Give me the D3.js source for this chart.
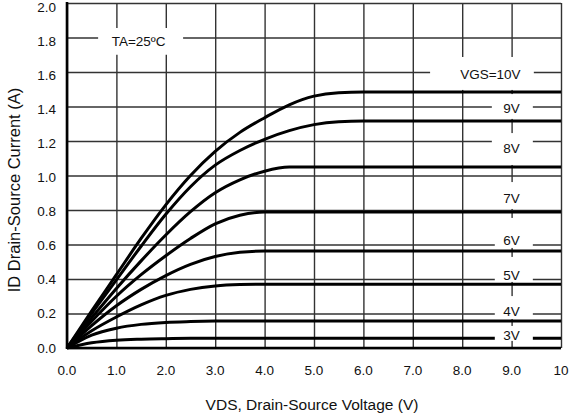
<!DOCTYPE html>
<html>
<head>
<meta charset="utf-8">
<script src="https://cdn.jsdelivr.net/npm/d3@7"></script>
<style>
  body { margin: 0; background: #fff; }
  svg { display: block; font-family: "Liberation Sans", Arial, sans-serif; }
</style>
</head>
<body>
<div id="chart"></div>
<script>
// drain-source voltage samples (V)
const vds = [0, 0.5, 1, 1.5, 2, 2.5, 3, 3.5, 4, 4.5, 5, 5.5, 6, 7, 8, 9, 10];

// drain current (A) per gate voltage
const id10V = [0, 0.215, 0.425, 0.635, 0.83, 1.00, 1.14, 1.25, 1.335, 1.41, 1.46, 1.48, 1.484, 1.484, 1.484, 1.484, 1.484];
const id9V  = [0, 0.20, 0.395, 0.59, 0.775, 0.935, 1.06, 1.145, 1.21, 1.26, 1.295, 1.312, 1.316, 1.316, 1.316, 1.316, 1.316];
const id8V  = [0, 0.175, 0.345, 0.505, 0.655, 0.79, 0.90, 0.975, 1.025, 1.049, 1.049, 1.049, 1.049, 1.049, 1.049, 1.049, 1.049];
const id7V  = [0, 0.155, 0.30, 0.425, 0.535, 0.635, 0.72, 0.77, 0.788, 0.788, 0.788, 0.788, 0.788, 0.788, 0.788, 0.788, 0.788];
const id6V  = [0, 0.13, 0.245, 0.34, 0.42, 0.485, 0.53, 0.555, 0.562, 0.562, 0.562, 0.562, 0.562, 0.562, 0.562, 0.562, 0.562];
const id5V  = [0, 0.10, 0.18, 0.25, 0.305, 0.34, 0.36, 0.368, 0.37, 0.37, 0.37, 0.37, 0.37, 0.37, 0.37, 0.37, 0.37];
const id4V  = [0, 0.075, 0.115, 0.137, 0.148, 0.153, 0.156, 0.157, 0.157, 0.157, 0.157, 0.157, 0.157, 0.157, 0.157, 0.157, 0.157];
const id3V  = [0, 0.03, 0.045, 0.051, 0.054, 0.056, 0.057, 0.057, 0.057, 0.057, 0.057, 0.057, 0.057, 0.057, 0.057, 0.057, 0.057];

const seriesList = [id10V, id9V, id8V, id7V, id6V, id5V, id4V, id3V];

const xTicks = [0, 1, 2, 3, 4, 5, 6, 7, 8, 9, 10];
const xTickLabels = ["0.0", "1.0", "2.0", "3.0", "4.0", "5.0", "6.0", "7.0", "8.0", "9.0", "10"];
const yTicks = [0, 0.2, 0.4, 0.6, 0.8, 1.0, 1.2, 1.4, 1.6, 1.8, 2.0];

// in-plot labels: text centre and white knock-out box, in data units
const labels = [
  { text: "TA=25\u00baC", x: 1.45, y: 1.774, box: [0.63, 2.35, 1.855, 1.70] },
  { text: "VGS=10V", x: 8.57, y: 1.588, box: [7.35, 9.45, 1.687, 1.496] },
  { text: "9V", x: 9.0, y: 1.391, box: [8.6, 9.43, 1.472, 1.328] },
  { text: "8V", x: 9.0, y: 1.154, box: [8.6, 9.43, 1.246, 1.061] },
  { text: "7V", x: 9.0, y: 0.864, box: [8.66, 9.37, 0.962, 0.806] },
  { text: "6V", x: 9.0, y: 0.626, box: [8.66, 9.43, 0.754, 0.58] },
  { text: "5V", x: 9.0, y: 0.423, box: [8.66, 9.43, 0.528, 0.383] },
  { text: "4V", x: 9.0, y: 0.214, box: [8.66, 9.43, 0.301, 0.168] },
  { text: "3V", x: 9.0, y: 0.07, box: [8.66, 9.43, 0.128, 0.041] }
];

const width = 571, height = 419;
const margin = { left: 67, right: 561, top: 3, bottom: 348 };

const svg = d3.select("#chart").append("svg")
  .attr("width", width)
  .attr("height", height);

const x = d3.scaleLinear().domain([0, 10]).range([margin.left, margin.right]);
const y = d3.scaleLinear().domain([0, 2]).range([margin.bottom, margin.top]);

// grid
svg.append("g")
  .attr("transform", "translate(0," + margin.bottom + ")")
  .call(d3.axisBottom(x).tickValues(xTicks).tickSize(-(margin.bottom - margin.top)).tickFormat(""))
  .call(g => g.select(".domain").remove())
  .selectAll("line").attr("stroke", "#333").attr("stroke-width", 1.4);

svg.append("g")
  .attr("transform", "translate(" + margin.left + ",0)")
  .call(d3.axisLeft(y).tickValues(yTicks).tickSize(-(margin.right - margin.left)).tickFormat(""))
  .call(g => g.select(".domain").remove())
  .selectAll("line").attr("stroke", "#333").attr("stroke-width", 1.4);

// frame
svg.append("line").attr("x1", margin.left).attr("x2", margin.left)
  .attr("y1", margin.top - 1).attr("y2", margin.bottom + 1)
  .attr("stroke", "#000").attr("stroke-width", 2.6);
svg.append("line").attr("x1", margin.left).attr("x2", margin.right)
  .attr("y1", margin.bottom).attr("y2", margin.bottom)
  .attr("stroke", "#000").attr("stroke-width", 2.6);

// curves
const line = d3.line()
  .x((d, i) => x(vds[i]))
  .y(d => y(d))
  .curve(d3.curveMonotoneX);

svg.append("g").selectAll("path")
  .data(seriesList)
  .enter()
  .append("path")
  .attr("d", d => line(d))
  .attr("fill", "none")
  .attr("stroke", "#000")
  .attr("stroke-width", 3)
  .attr("stroke-linejoin", "round");

// labels with white boxes
const lab = svg.append("g").selectAll("g").data(labels).enter().append("g");
lab.append("rect")
  .attr("x", d => x(d.box[0]))
  .attr("width", d => x(d.box[1]) - x(d.box[0]))
  .attr("y", d => y(d.box[2]))
  .attr("height", d => y(d.box[3]) - y(d.box[2]))
  .attr("fill", "#fff");
lab.append("text")
  .attr("x", d => x(d.x))
  .attr("y", d => y(d.y))
  .attr("text-anchor", "middle")
  .attr("dominant-baseline", "central")
  .attr("font-size", 13.5)
  .attr("fill", "#111")
  .text(d => d.text);

// tick labels
svg.append("g").selectAll("text")
  .data(xTicks)
  .enter()
  .append("text")
  .attr("x", d => x(d))
  .attr("y", 375)
  .attr("text-anchor", "middle")
  .attr("font-size", 13.5)
  .attr("fill", "#111")
  .text((d, i) => xTickLabels[i]);

svg.append("g").selectAll("text")
  .data(yTicks)
  .enter()
  .append("text")
  .attr("x", 56)
  .attr("y", d => y(d) + d * 2)
  .attr("text-anchor", "end")
  .attr("dominant-baseline", "central")
  .attr("font-size", 13.5)
  .attr("fill", "#111")
  .text(d => d.toFixed(1));

// axis titles
svg.append("text")
  .attr("x", 312)
  .attr("y", 410)
  .attr("text-anchor", "middle")
  .attr("font-size", 15.5)
  .attr("fill", "#111")
  .text("VDS, Drain-Source Voltage (V)");

svg.append("text")
  .attr("transform", "translate(20,190) rotate(-90)")
  .attr("text-anchor", "middle")
  .attr("font-size", 16.5)
  .attr("fill", "#111")
  .text("ID Drain-Source Current (A)");
</script>
</body>
</html>
